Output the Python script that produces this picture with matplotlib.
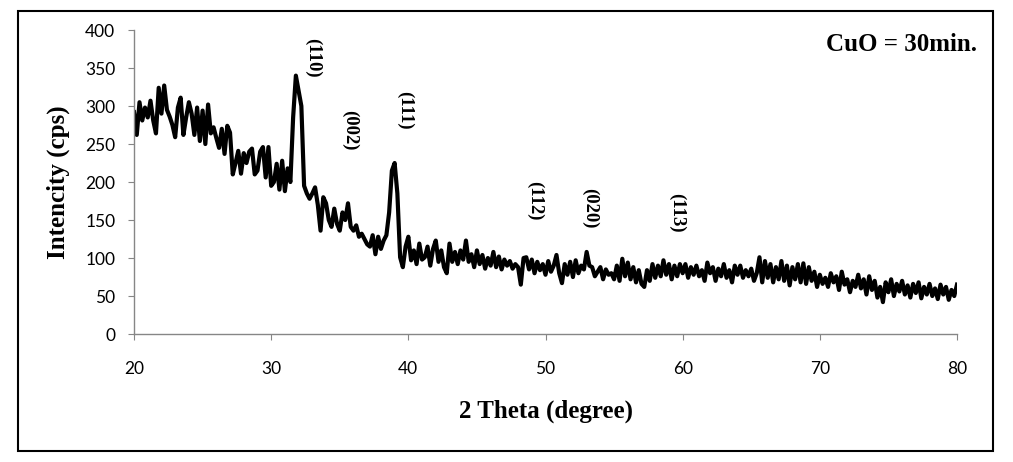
import numpy as np
import matplotlib
matplotlib.use('Agg')
import matplotlib.pyplot as plt
from matplotlib.patches import Rectangle

# 2 theta grid, 0.2 degree steps from 20 to 80
two_theta = np.round(np.arange(20, 80.001, 0.2), 1)

# intensity, one row per degree (d.0, d.2, d.4, d.6, d.8)
intensity = [
    292, 262, 305, 281, 298,
    285, 307, 281, 264, 324,
    290, 327, 295, 286, 275,
    259, 298, 311, 262, 285,
    305, 290, 262, 298, 254,
    294, 250, 302, 264, 272,
    258, 245, 270, 237, 274,
    265, 210, 225, 241, 211,
    238, 225, 240, 244, 210,
    215, 240, 246, 206, 246,
    195, 200, 224, 190, 228,
    188, 218, 200, 285, 340,
    320, 300, 195, 185, 178,
    185, 193, 170, 136, 180,
    172, 150, 141, 165, 145,
    136, 160, 150, 172, 141,
    136, 143, 128, 132, 125,
    118, 115, 130, 105, 128,
    112, 123, 130, 160, 215,
    225, 185, 101, 88, 115,
    128, 97, 110, 92, 119,
    98, 101, 115, 90, 112,
    123, 95, 110, 88, 80,
    119, 95, 108, 92, 110,
    98, 123, 95, 105, 88,
    110, 92, 104, 86, 100,
    90, 108, 88, 102, 85,
    98, 90, 96, 86, 92,
    88, 65, 100, 101, 85,
    98, 80, 95, 84, 92,
    78, 96, 82, 90, 104,
    80, 67, 92, 78, 95,
    75, 97, 80, 90, 85,
    108, 90, 88, 76, 82,
    88, 72, 85, 78, 80,
    72, 90, 70, 99, 76,
    94, 72, 88, 68, 84,
    66, 62, 84, 70, 92,
    74, 90, 76, 97, 78,
    92, 72, 90, 76, 92,
    80, 92, 74, 88, 78,
    90, 76, 84, 70, 94,
    80, 88, 70, 86, 76,
    92, 74, 84, 68, 90,
    78, 90, 74, 84, 76,
    86, 70, 80, 101, 68,
    96, 74, 92, 68, 88,
    72, 96, 70, 90, 64,
    88, 72, 92, 68, 93,
    66, 88, 70, 82, 62,
    78, 66, 74, 62, 80,
    68, 76, 58, 82, 65,
    72, 55, 70, 62, 78,
    60, 72, 52, 76, 58,
    70, 48, 62, 42, 68,
    55, 72, 50, 66, 56,
    70, 52, 64, 48, 66,
    54, 68, 47, 62, 52,
    66, 50, 60, 46, 65,
    52, 62, 45, 58, 50,
    65,
]

# Miller indices and where they are written
peak_labels = ['(110)', '(002)', '(111)', '(112)', '(020)', '(113)']
label_x = [33.05, 35.75, 39.75, 49.25, 53.25, 59.6]
label_y = [364, 268, 294, 176, 165, 160]

x_ticks = [20, 30, 40, 50, 60, 70, 80]
y_ticks = [0, 50, 100, 150, 200, 250, 300, 350, 400]

fig = plt.figure(figsize=(10.13, 4.62), dpi=100)
ax = fig.add_axes([0.1323, 0.277, 0.8124, 0.658])

ax.plot(two_theta, intensity, color='black', lw=3, solid_joinstyle='round')

ax.set_xlim(20, 80)
ax.set_ylim(0, 400)
ax.set_xticks(x_ticks)
ax.set_yticks(y_ticks)

for side in ['top', 'right']:
    ax.spines[side].set_visible(False)
for side in ['left', 'bottom']:
    ax.spines[side].set_color('#868686')
    ax.spines[side].set_linewidth(1)

ax.tick_params(axis='both', direction='out', length=4.5, color='#868686',
               labelsize=12.5, labelcolor='black')
ax.tick_params(axis='y', pad=9)
ax.tick_params(axis='x', pad=15)
for lab in ax.get_xticklabels() + ax.get_yticklabels():
    lab.set_family('Lato')

serif = 'Liberation Serif'
ax.set_xlabel('2 Theta (degree)', family=serif, fontsize=18, fontweight='bold', labelpad=16)
ax.set_ylabel('Intencity (cps)', family=serif, fontsize=18, fontweight='bold', labelpad=11)

for txt, lx, ly in zip(peak_labels, label_x, label_y):
    ax.text(lx, ly, txt, rotation=-90, ha='center', va='center',
            family=serif, fontsize=13.5, fontweight='bold')

fig.text(0.9645, 0.903, 'CuO = 30min.', ha='right', va='center',
         family=serif, fontsize=18, fontweight='bold')

# outer frame round the whole chart
fig.patches.append(Rectangle((0.0178, 0.0238), 0.9625, 0.952, transform=fig.transFigure,
                             fill=False, edgecolor='black', lw=1.5))

fig.savefig('out.png', dpi=100)
